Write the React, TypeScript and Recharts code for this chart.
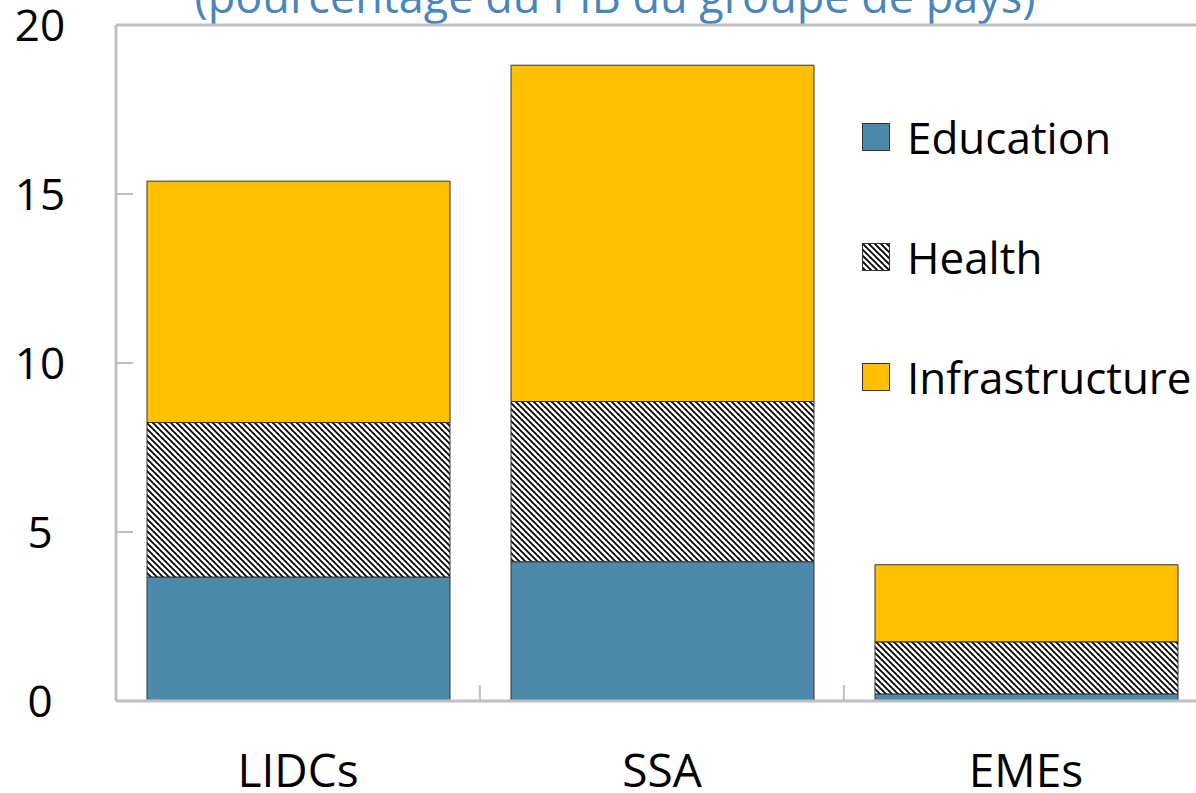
import React from 'react';
import { BarChart, Bar, XAxis, YAxis, Legend, ReferenceLine } from 'recharts';

const categories = ['LIDCs', 'SSA', 'EMEs'];
const education = [3.67, 4.12, 0.21];
const health = [4.57, 4.74, 1.54];
const infrastructure = [7.14, 9.95, 2.28];
const yTicks = [0, 5, 10, 15, 20];
const title = '(pourcentage du PIB du groupe de pays)';

const data = categories.map((name, i) => ({
  name,
  education: education[i],
  health: health[i],
  infrastructure: infrastructure[i],
}));

const FONT = '"Open Sans", "Noto Sans", sans-serif';
const AXIS = '#bfbfbf';
const BLUE = '#4d89ab';
const GOLD = '#ffc000';

const YTick = (props: any) => {
  const { y, payload } = props;
  return (
    <g>
      {payload.value > 0 && payload.value < 20 && (
        <line x1={116} x2={133} y1={y} y2={y} stroke={AXIS} strokeWidth={2} />
      )}
      <text x={40} y={y + 16} textAnchor="middle" fontSize={44} fontFamily={FONT} fill="#000">
        {payload.value}
      </text>
    </g>
  );
};

const XTick = (props: any) => {
  const { x, index, payload } = props;
  const half = 363.7 / 2;
  return (
    <g>
      {index < categories.length - 1 && (
        <line x1={x + half} x2={x + half} y1={700} y2={685} stroke={AXIS} strokeWidth={2} />
      )}
      <text x={x} y={787} textAnchor="middle" fontSize={46} fontFamily={FONT} fill="#000">
        {payload.value}
      </text>
    </g>
  );
};

// diagonal "\" hatch for Health
const HatchPattern = ({ id }: { id: string }) => (
  <pattern id={id} width={6} height={6} patternUnits="userSpaceOnUse">
    <rect width={6} height={6} fill="#fff" />
    <path d="M0,0 L6,6 M-3,3 L3,9 M3,-3 L9,3" stroke="#000" strokeWidth={1.8} />
  </pattern>
);

const HatchSwatch = () => (
  <svg width={28} height={28} style={{ display: 'block' }}>
    <defs>
      <HatchPattern id="hatchLegend" />
    </defs>
    <rect x={0.5} y={0.5} width={27} height={27} fill="url(#hatchLegend)" stroke="#333" />
  </svg>
);

const legendItems = [
  { label: 'Education', fill: BLUE },
  { label: 'Health', fill: 'hatch' },
  { label: 'Infrastructure', fill: GOLD },
];

const renderLegend = () => (
  <div style={{ fontFamily: FONT }}>
    {legendItems.map(item => (
      <div key={item.label} style={{ display: 'flex', alignItems: 'center', height: 120 }}>
        {item.fill === 'hatch' ? (
          <HatchSwatch />
        ) : (
          <div style={{ width: 26, height: 26, background: item.fill, border: '1px solid #333' }} />
        )}
        <span style={{ fontSize: 44, marginLeft: 17, color: '#000', lineHeight: 1 }}>{item.label}</span>
      </div>
    ))}
  </div>
);

export default function App() {
  return (
    <div style={{ position: 'absolute', left: 0, top: 0, width: 1196, height: 793, overflow: 'hidden', background: '#fff' }}>
      <div
        style={{
          position: 'absolute',
          left: 0,
          width: 1230,
          top: -34,
          textAlign: 'center',
          fontFamily: FONT,
          fontSize: 45,
          color: '#4a86b8',
          lineHeight: '60px',
          whiteSpace: 'nowrap',
        }}
      >
        {title}
      </div>
      <BarChart width={1208} height={793} data={data} margin={{ top: 25, right: 0, bottom: 0, left: 0 }} barSize={303}>
        <defs>
          <HatchPattern id="hatch" />
        </defs>
        <XAxis
          dataKey="name"
          height={92}
          axisLine={{ stroke: AXIS, strokeWidth: 3 }}
          tickLine={false}
          tick={<XTick />}
          interval={0}
        />
        <YAxis
          width={116}
          domain={[0, 20]}
          ticks={yTicks}
          axisLine={{ stroke: AXIS, strokeWidth: 3 }}
          tickLine={false}
          tick={<YTick />}
          interval={0}
        />
        <ReferenceLine y={20} stroke={AXIS} strokeWidth={3} />
        <Legend
          layout="horizontal"
          verticalAlign="middle"
          align="center"
          wrapperStyle={{ left: 862, top: 77, width: 340 }}
          content={renderLegend}
        />
        <Bar dataKey="education" name="Education" stackId="a" fill={BLUE} stroke="#333" strokeWidth={1} isAnimationActive={false} />
        <Bar dataKey="health" name="Health" stackId="a" fill="url(#hatch)" stroke="#333" strokeWidth={1} isAnimationActive={false} />
        <Bar dataKey="infrastructure" name="Infrastructure" stackId="a" fill={GOLD} stroke="#333" strokeWidth={1} isAnimationActive={false} />
      </BarChart>
    </div>
  );
}
